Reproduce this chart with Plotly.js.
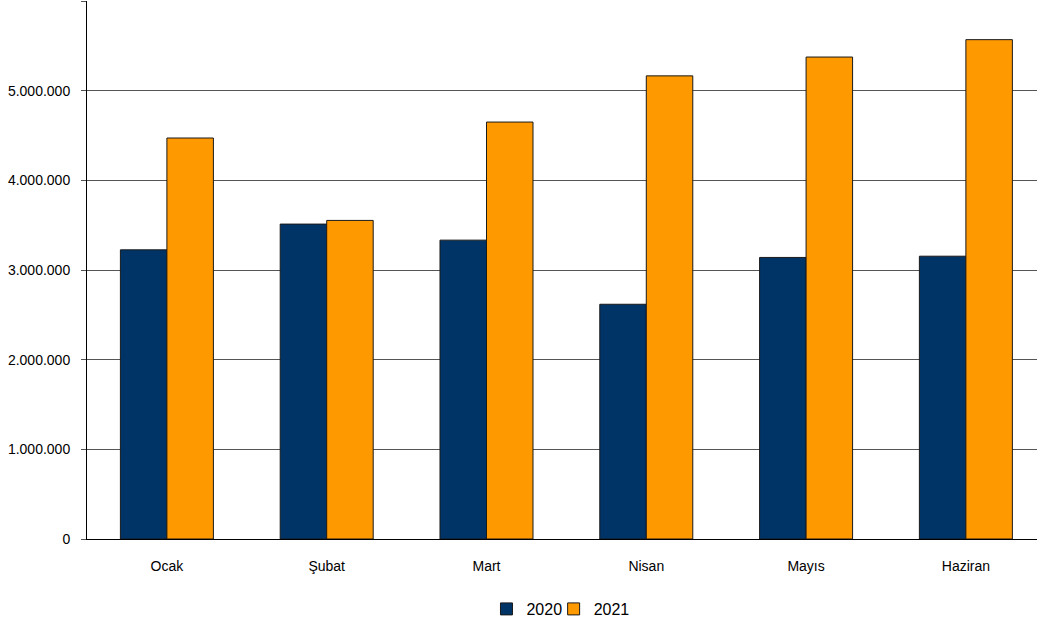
<!DOCTYPE html>
<html>
<head>
<meta charset="utf-8">
<script src="https://cdn.plot.ly/plotly-3.0.1.min.js"></script>
<style>html,body{margin:0;padding:0;background:#fff;}#chart{width:1037px;height:626px;}</style>
</head>
<body>
<div id="chart"></div>
<script>
const months = ["Ocak", "Şubat", "Mart", "Nisan", "Mayıs", "Haziran"];
const values2020 = [3225000, 3512000, 3333000, 2618000, 3140000, 3154000];
const values2021 = [4472000, 3553000, 4650000, 5165000, 5375000, 5569000];
const tickValues = [0, 1000000, 2000000, 3000000, 4000000, 5000000, 6000000];
const tickLabels = ["0", "1.000.000", "2.000.000", "3.000.000", "4.000.000", "5.000.000", "6.000.000"];

const traces = [
  {type: "bar", name: "2020", x: months, y: values2020, legend: "legend",
   marker: {color: "#003366", line: {color: "#1a1a1a", width: 1}}},
  {type: "bar", name: "2021", x: months, y: values2021, legend: "legend2",
   marker: {color: "#FF9900", line: {color: "#1a1a1a", width: 1}}}
];

const legendBase = {orientation: "h", xanchor: "left", y: -0.131, yanchor: "middle",
                    font: {size: 16}, itemwidth: 30, bgcolor: "rgba(0,0,0,0)"};

const layout = {
  width: 1037, height: 626,
  margin: {l: 87, r: 0, t: 1, b: 87},
  paper_bgcolor: "#ffffff", plot_bgcolor: "#ffffff",
  font: {family: "Liberation Sans, Arial, sans-serif", color: "#000000", size: 14},
  barmode: "group", bargap: 0.418, bargroupgap: 0,
  showlegend: true,
  legend: Object.assign({}, legendBase, {x: 0.4205}),
  legend2: Object.assign({}, legendBase, {x: 0.4912}),
  xaxis: {range: [-0.5, 5.445], showline: true, linecolor: "#000000", linewidth: 1, ticks: "", showgrid: false,
          zeroline: false, ticklabelstandoff: 14, tickfont: {size: 14}},
  yaxis: {range: [0, 6000000], tickvals: tickValues, ticktext: tickLabels,
          showline: true, linecolor: "#000000", linewidth: 1,
          ticks: "outside", ticklen: 5, tickcolor: "#555555",
          showgrid: true, gridcolor: "#555555", gridwidth: 1,
          zeroline: false, ticklabelstandoff: 8, tickfont: {size: 14}}
};

Plotly.newPlot("chart", traces, layout, {displayModeBar: false, staticPlot: true});
</script>
</body>
</html>
